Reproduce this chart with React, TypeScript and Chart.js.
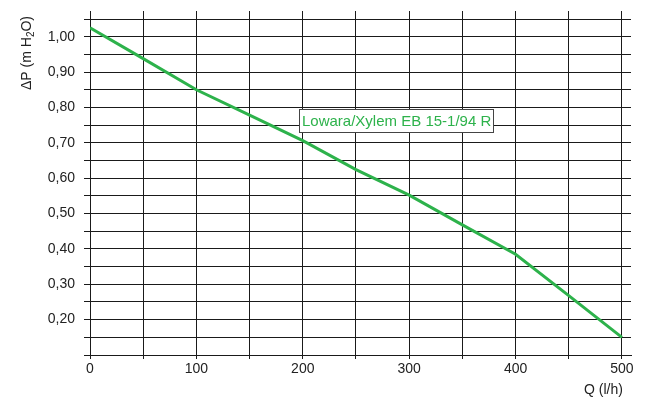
import React, { useEffect, useRef } from "react";
import { Chart, registerables } from "chart.js";

Chart.register(...registerables);

const flowValues = [0, 50, 100, 150, 200, 250, 300, 350, 400, 450, 500];
const pressureValues = [1.025, 0.938, 0.85, 0.778, 0.706, 0.624, 0.552, 0.468, 0.385, 0.268, 0.15];
const seriesLabel = "Lowara/Xylem EB 15-1/94 R";
const xTitle = "Q (l/h)";
const yTitleParts = ["ΔP (m H", "2", "O)"];

const GREEN = "#2db24b";
const GRID = "#1a1a1a";
const FONT = "'Liberation Sans', Arial, sans-serif";

const annotationPlugin = {
  id: "annot",
  afterDraw(chart: any) {
    const { ctx, scales } = chart;
    ctx.save();
    // series label box
    const bx = Math.round(scales.x.getPixelForValue(196));
    const by = Math.round(scales.y.getPixelForValue(0.795));
    ctx.font = `15px ${FONT}`;
    const w = Math.round(ctx.measureText(seriesLabel).width + 5);
    const h = 23;
    ctx.fillStyle = "#ffffff";
    ctx.fillRect(bx + 0.5, by + 0.5, w, h);
    ctx.strokeStyle = "#444444";
    ctx.lineWidth = 1;
    ctx.strokeRect(bx + 0.5, by + 0.5, w, h);
    ctx.fillStyle = GREEN;
    ctx.textBaseline = "middle";
    ctx.textAlign = "left";
    ctx.fillText(seriesLabel, bx + 3, by + 12.5);

    // x title
    ctx.font = `14px ${FONT}`;
    ctx.fillStyle = "#222222";
    ctx.textAlign = "right";
    ctx.textBaseline = "middle";
    ctx.fillText(xTitle, scales.x.getPixelForValue(500) + 1, 390);

    // y title (rotated with subscript)
    ctx.translate(31, 90);
    ctx.rotate(-Math.PI / 2);
    ctx.textAlign = "left";
    ctx.textBaseline = "alphabetic";
    let cx = 0;
    ctx.font = `14px ${FONT}`;
    ctx.fillText(yTitleParts[0], cx, 0);
    cx += ctx.measureText(yTitleParts[0]).width;
    ctx.font = `10px ${FONT}`;
    ctx.fillText(yTitleParts[1], cx, 3);
    cx += ctx.measureText(yTitleParts[1]).width;
    ctx.font = `14px ${FONT}`;
    ctx.fillText(yTitleParts[2], cx, 0);
    ctx.restore();
  },
};

export default function App() {
  const ref = useRef<HTMLCanvasElement | null>(null);
  useEffect(() => {
    if (!ref.current) return;
    const chart = new Chart(ref.current, {
      type: "line",
      data: {
        datasets: [
          {
            label: seriesLabel,
            data: flowValues.map((x, i) => ({ x, y: pressureValues[i] })),
            borderColor: GREEN,
            backgroundColor: GREEN,
            borderWidth: 3,
            pointRadius: 0,
            tension: 0,
            fill: false,
          },
        ],
      },
      options: {
        animation: false,
        responsive: false,
        layout: { padding: { left: 0, right: 15, top: 0, bottom: 0 } },
        plugins: { legend: { display: false }, tooltip: { enabled: false } },
        scales: {
          x: {
            type: "linear",
            position: "bottom",
            min: 0,
            max: 508.5,
            afterFit: (s: any) => {
              s.height = 43;
            },
            ticks: {
              stepSize: 50,
              includeBounds: false,
              autoSkip: false,
              maxRotation: 0,
              padding: 2,
              color: "#222222",
              font: { family: FONT, size: 14 },
              callback: (v: any) => (Math.round(v) % 100 === 0 ? String(Math.round(v)) : ""),
            },
            grid: { color: GRID, lineWidth: 1, tickLength: 4, tickColor: GRID },
            border: { display: true, color: GRID },
          },
          x2: {
            type: "linear",
            position: "top",
            min: 0,
            max: 508.5,
            afterFit: (s: any) => {
              s.height = 19;
            },
            ticks: { stepSize: 50, includeBounds: false, display: false },
            grid: { color: GRID, lineWidth: 1, tickLength: 8, drawOnChartArea: false, tickColor: GRID },
            border: { display: false },
          },
          y: {
            type: "linear",
            min: 0.1,
            max: 1.05,
            afterFit: (s: any) => {
              s.width = 90;
            },
            ticks: {
              stepSize: 0.05,
              autoSkip: false,
              padding: 9,
              color: "#222222",
              font: { family: FONT, size: 14 },
              callback: (v: any) => {
                const r = Math.round(v * 100);
                if (r % 10 === 0 && r >= 20 && r <= 100) return (r / 100).toFixed(2).replace(".", ",");
                return "";
              },
            },
            grid: { color: GRID, lineWidth: 1, tickLength: 6, tickColor: GRID },
            border: { display: true, color: GRID },
          },
        },
      } as any,
      plugins: [annotationPlugin],
    });
    return () => chart.destroy();
  }, []);
  return (
    <div style={{ position: "fixed", left: 0, top: 0, width: 646, height: 398, background: "#fff" }}>
      <canvas ref={ref} width={646} height={398} style={{ display: "block" }} />
    </div>
  );
}
